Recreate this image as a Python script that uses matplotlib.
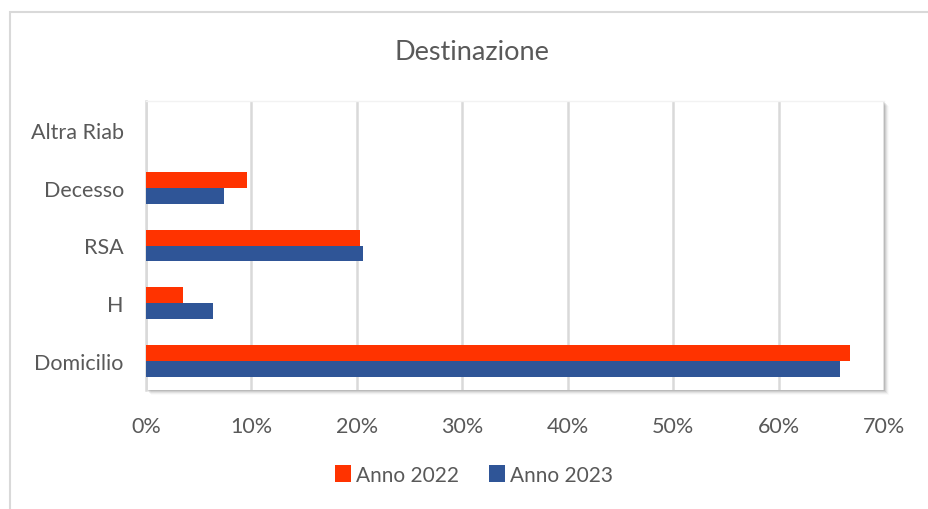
import matplotlib.pyplot as plt
import matplotlib.patches as mpatches
import numpy as np

categorie = ['Domicilio', 'H', 'RSA', 'Decesso', 'Altra Riab']
anno_2022 = [66.8, 3.5, 20.3, 9.6, 0.0]
anno_2023 = [65.8, 6.4, 20.6, 7.4, 0.0]
tick_x = [0, 10, 20, 30, 40, 50, 60, 70]

rosso = '#ff3300'
blu = '#2f5597'
grigio_testo = '#595959'

plt.rcParams['font.family'] = ['Lato', 'DejaVu Sans']

fig = plt.figure(figsize=(9.29, 5.10), dpi=100)
W, H = 929, 510

# cornice esterna (solo bordo sinistro e superiore visibili)
fig.patches.append(mpatches.Rectangle((10 / W, -0.1), 1.2, 1 - 13 / H + 0.1,
                                      transform=fig.transFigure, fill=False,
                                      edgecolor='#d9d9d9', linewidth=1.5))

left, right, top, bottom = 146, 884, 102, 391
ax = fig.add_axes([left / W, 1 - bottom / H, (right - left) / W, (bottom - top) / H])
ax.set_zorder(2)

# ombra dell'area del grafico
for i, a in enumerate([0.10, 0.08, 0.06, 0.04, 0.02]):
    off = (i + 1)
    fig.patches.append(mpatches.Rectangle(((left + off) / W, 1 - (bottom + off) / H),
                                          (right - left) / W, (bottom - top) / H,
                                          transform=fig.transFigure, facecolor='black',
                                          alpha=a, edgecolor='none', zorder=0))

y = np.arange(len(categorie))
h = 0.275
ax.barh(y + h / 2, anno_2022, height=h, color=rosso, label='Anno 2022', zorder=3)
ax.barh(y - h / 2, anno_2023, height=h, color=blu, label='Anno 2023', zorder=3)

ax.set_xlim(0, 70)
ax.set_ylim(-0.5, len(categorie) - 0.5)
ax.set_xticks(tick_x)
ax.set_xticklabels([f'{t}%' for t in tick_x])
ax.set_yticks(y)
ax.set_yticklabels(categorie)
ax.tick_params(length=0, labelsize=15.5, colors=grigio_testo)
ax.tick_params(axis='x', pad=19)
ax.tick_params(axis='y', pad=16)
ax.xaxis.grid(True, color='#d9d9d9', linewidth=1.8, zorder=0)
ax.set_facecolor('white')
for s in ax.spines.values():
    s.set_visible(False)
ax.spines['left'].set_visible(True)
ax.spines['left'].set_color('#d9d9d9')
ax.spines['left'].set_linewidth(1.8)
ax.spines['top'].set_visible(True)
ax.spines['top'].set_color('#f2f2f2')
ax.spines['top'].set_linewidth(1)

fig.text(472 / W, 1 - 53 / H, 'Destinazione', ha='center', va='center',
         fontsize=19.5, color=grigio_testo)

fig.legend(loc='center', bbox_to_anchor=(474 / W, 1 - 476 / H), ncol=2, frameon=False,
           fontsize=15, labelcolor=grigio_testo, handlelength=0.8, handleheight=0.9,
           handletextpad=0.25, columnspacing=1.4)

plt.savefig('out.png', dpi=100, facecolor='white')
